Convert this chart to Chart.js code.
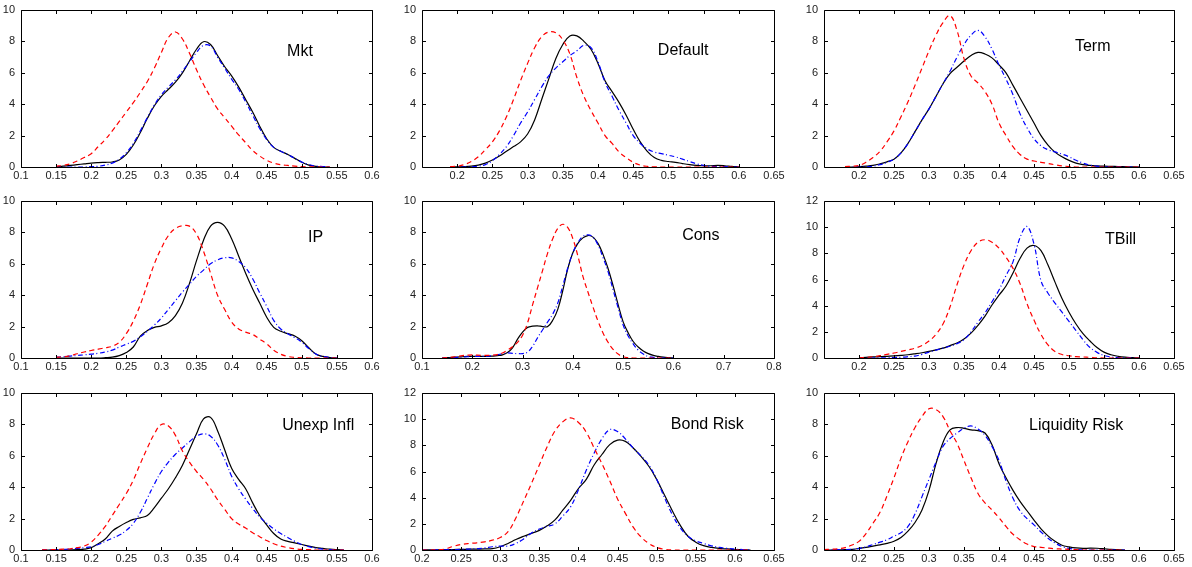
<!DOCTYPE html>
<html>
<head>
<meta charset="utf-8">
<title>Factor densities</title>
<script src="https://cdn.jsdelivr.net/npm/chart.js@4.4.0/dist/chart.umd.min.js"></script>
<style>
  html, body { margin: 0; padding: 0; background: #fff; }
  #grid { position: relative; width: 1192px; height: 567px; overflow: hidden; }
  #grid canvas { position: absolute; }
</style>
</head>
<body>
<div id="grid"></div>
<script>
// density estimates per factor: x grid plus three curves (black solid, blue dash-dot, red dashed)
const mktX = [0.15,0.16,0.17,0.18,0.19,0.20,0.21,0.22,0.23,0.24,0.25,0.26,0.27,0.28,0.29,0.30,0.31,0.32,0.33,0.34,0.35,0.36,0.37,0.38,0.39,0.40,0.41,0.42,0.43,0.44,0.45,0.46,0.47,0.48,0.49,0.50,0.51,0.52,0.53,0.54];
const mktBlack = [0,0.05,0.1,0.15,0.2,0.25,0.28,0.3,0.32,0.45,0.8,1.4,2.2,3.1,3.9,4.5,4.95,5.4,6.0,6.75,7.5,7.98,7.8,7.1,6.4,5.8,5.1,4.3,3.5,2.6,1.8,1.25,1.0,0.8,0.55,0.3,0.12,0.04,0,0];
const mktBlue = [0,0,0,0,0,0.02,0.05,0.12,0.25,0.5,0.9,1.5,2.3,3.15,3.95,4.6,5.1,5.55,6.1,6.7,7.3,7.75,7.7,7.0,6.3,5.6,4.95,4.15,3.3,2.45,1.75,1.25,1.0,0.8,0.55,0.32,0.15,0.06,0.03,0.01];
const mktRed = [0.05,0.1,0.2,0.38,0.6,0.85,1.3,1.75,2.3,2.9,3.5,4.1,4.75,5.45,6.3,7.3,8.25,8.6,8.15,7.25,6.2,5.25,4.45,3.7,3.15,2.6,2.05,1.55,1.05,0.7,0.43,0.25,0.15,0.1,0.06,0.02,0.01,0,0,0];

const defX = [0.19,0.20,0.21,0.22,0.23,0.24,0.25,0.26,0.27,0.28,0.29,0.30,0.31,0.32,0.33,0.34,0.35,0.36,0.37,0.38,0.39,0.40,0.41,0.42,0.43,0.44,0.45,0.46,0.47,0.48,0.49,0.50,0.51,0.52,0.53,0.54,0.55,0.56,0.57,0.58,0.59,0.60];
const defBlack = [0,0.01,0.02,0.05,0.12,0.25,0.45,0.7,1.0,1.3,1.6,2.1,3.0,4.3,5.6,6.9,7.8,8.35,8.35,8.0,7.5,6.6,5.5,4.8,4.1,3.3,2.4,1.6,1.0,0.6,0.42,0.35,0.3,0.22,0.15,0.1,0.08,0.08,0.1,0.08,0.04,0.01];
const defBlue = [0,0,0,0.02,0.06,0.15,0.4,0.8,1.3,2.0,2.8,3.5,4.3,5.1,5.8,6.3,6.7,7.1,7.4,7.75,7.6,6.7,5.4,4.5,3.6,2.8,2.0,1.5,1.15,0.95,0.85,0.75,0.65,0.5,0.35,0.2,0.1,0.05,0.03,0.02,0,0];
const defRed = [0.02,0.05,0.15,0.35,0.65,1.1,1.6,2.3,3.2,4.3,5.5,6.6,7.6,8.3,8.6,8.55,8.1,7.2,5.7,4.5,3.6,2.8,2.0,1.5,0.95,0.6,0.3,0.12,0.04,0.01,0,0,0,0,0,0,0,0,0,0,0,0];

const termX = [0.18,0.19,0.20,0.21,0.22,0.23,0.24,0.25,0.26,0.27,0.28,0.29,0.30,0.31,0.32,0.33,0.34,0.35,0.36,0.37,0.38,0.39,0.40,0.41,0.42,0.43,0.44,0.45,0.46,0.47,0.48,0.49,0.50,0.51,0.52,0.53,0.54,0.55,0.56,0.57,0.58,0.59,0.60];
const termBlack = [0,0,0.02,0.05,0.1,0.2,0.33,0.5,0.9,1.5,2.25,3.0,3.7,4.5,5.3,5.95,6.35,6.75,7.1,7.3,7.2,6.95,6.5,6.0,5.2,4.4,3.6,2.8,2.0,1.4,0.95,0.65,0.42,0.25,0.15,0.1,0.07,0.05,0.04,0.03,0.02,0.01,0];
const termBlue = [0,0,0,0.02,0.05,0.15,0.3,0.5,0.9,1.5,2.25,3.0,3.7,4.5,5.3,6.1,7.0,7.8,8.4,8.7,8.3,7.5,6.5,5.6,4.6,3.4,2.5,1.8,1.35,1.1,0.96,0.82,0.65,0.43,0.25,0.12,0.05,0.02,0,0,0,0,0];
const termRed = [0.02,0.05,0.1,0.3,0.6,1.0,1.6,2.3,3.2,4.15,5.2,6.3,7.4,8.4,9.2,9.65,8.7,6.9,5.8,5.35,4.8,4.0,2.8,2.0,1.3,0.8,0.5,0.38,0.3,0.22,0.14,0.07,0.03,0,0,0,0,0,0,0,0,0,0];

const ipX = [0.15,0.16,0.17,0.18,0.19,0.20,0.21,0.22,0.23,0.24,0.25,0.26,0.27,0.28,0.29,0.30,0.31,0.32,0.33,0.34,0.35,0.36,0.37,0.38,0.39,0.40,0.41,0.42,0.43,0.44,0.45,0.46,0.47,0.48,0.49,0.50,0.51,0.52,0.53,0.54,0.55];
const ipBlack = [0,0,0,0,0,0,0,0.02,0.05,0.15,0.35,0.7,1.4,1.75,1.95,2.05,2.25,2.7,3.5,4.75,6.2,7.5,8.4,8.64,8.4,7.6,6.5,5.4,4.4,3.5,2.6,1.95,1.7,1.55,1.4,1.1,0.65,0.25,0.1,0.03,0];
const ipBlue = [0.05,0.08,0.12,0.16,0.2,0.25,0.3,0.38,0.5,0.7,0.88,1.06,1.35,1.7,2.1,2.55,3.1,3.65,4.2,4.7,5.2,5.6,6.0,6.25,6.38,6.38,6.15,5.75,5.05,4.15,3.3,2.4,1.85,1.55,1.3,1.0,0.6,0.25,0.1,0.03,0];
const ipRed = [0.04,0.08,0.15,0.27,0.38,0.48,0.56,0.65,0.75,1.0,1.55,2.35,3.4,4.7,6.0,7.0,7.8,8.25,8.42,8.4,7.9,6.8,5.4,4.0,3.1,2.3,1.85,1.65,1.5,1.2,0.9,0.5,0.24,0.1,0.04,0.01,0,0,0,0,0];

const consX = [0.14,0.15,0.16,0.17,0.18,0.19,0.20,0.21,0.22,0.23,0.24,0.25,0.26,0.27,0.28,0.29,0.30,0.31,0.32,0.33,0.34,0.35,0.36,0.37,0.38,0.39,0.40,0.41,0.42,0.43,0.44,0.45,0.46,0.47,0.48,0.49,0.50,0.51,0.52,0.53,0.54,0.55,0.56,0.57,0.58,0.59,0.60];
const consBlack = [0,0.02,0.04,0.06,0.08,0.1,0.1,0.1,0.1,0.1,0.12,0.15,0.2,0.35,0.65,1.2,1.65,1.95,2.03,2.05,2.0,2.0,2.4,3.1,4.3,5.7,6.7,7.3,7.65,7.8,7.7,7.3,6.6,5.7,4.6,3.4,2.3,1.6,1.05,0.7,0.45,0.28,0.17,0.1,0.05,0.02,0];
const consBlue = [0,0,0.02,0.04,0.06,0.08,0.1,0.1,0.1,0.12,0.15,0.2,0.28,0.32,0.3,0.28,0.28,0.38,0.75,1.3,1.8,2.3,2.8,3.5,4.6,5.75,6.7,7.35,7.75,7.84,7.7,7.2,6.4,5.5,4.35,3.2,2.1,1.4,0.9,0.5,0.25,0.1,0.04,0.01,0,0,0];
const consRed = [0,0.02,0.06,0.1,0.15,0.18,0.2,0.18,0.17,0.17,0.18,0.22,0.32,0.5,0.72,1.0,1.45,2.25,3.4,4.5,5.6,6.7,7.6,8.25,8.52,8.3,7.6,6.5,5.2,4.2,3.25,2.35,1.6,1.0,0.55,0.25,0.08,0.02,0,0,0,0,0,0,0,0,0];

const tbillX = [0.20,0.21,0.22,0.23,0.24,0.25,0.26,0.27,0.28,0.29,0.30,0.31,0.32,0.33,0.34,0.35,0.36,0.37,0.38,0.39,0.40,0.41,0.42,0.43,0.44,0.45,0.46,0.47,0.48,0.49,0.50,0.51,0.52,0.53,0.54,0.55,0.56,0.57,0.58,0.59,0.60];
const tbillBlack = [0.02,0.05,0.08,0.1,0.13,0.16,0.2,0.25,0.32,0.4,0.5,0.62,0.75,0.95,1.15,1.45,1.9,2.5,3.2,4.05,4.8,5.5,6.5,7.6,8.4,8.6,8.2,7.1,5.8,4.55,3.5,2.6,1.86,1.3,0.8,0.45,0.25,0.13,0.06,0.03,0.01];
const tbillBlue = [0,0,0,0.01,0.02,0.04,0.06,0.1,0.15,0.28,0.45,0.6,0.75,0.9,1.1,1.4,2.0,2.75,3.45,4.3,5.2,6.3,7.35,9.2,10.05,8.7,5.9,4.95,4.2,3.5,2.8,2.1,1.4,0.8,0.43,0.2,0.08,0.03,0.01,0,0];
const tbillRed = [0.02,0.05,0.1,0.18,0.28,0.38,0.5,0.62,0.75,0.95,1.3,1.8,2.6,3.9,5.6,7.1,8.2,8.85,9.04,8.85,8.4,7.7,6.85,5.7,4.15,2.9,1.8,1.0,0.5,0.27,0.17,0.1,0.08,0.05,0.02,0,0,0,0,0,0];

const inflX = [0.13,0.14,0.15,0.16,0.17,0.18,0.19,0.20,0.21,0.22,0.23,0.24,0.25,0.26,0.27,0.28,0.29,0.30,0.31,0.32,0.33,0.34,0.35,0.36,0.37,0.38,0.39,0.40,0.41,0.42,0.43,0.44,0.45,0.46,0.47,0.48,0.49,0.50,0.51,0.52,0.53,0.54,0.55,0.56];
const inflBlack = [0,0,0,0,0.01,0.02,0.05,0.15,0.4,0.7,1.2,1.5,1.75,1.95,2.05,2.2,2.7,3.3,3.9,4.6,5.4,6.4,7.4,8.35,8.45,7.6,6.4,5.2,4.5,3.9,3.0,2.2,1.6,1.05,0.7,0.55,0.45,0.35,0.25,0.15,0.1,0.05,0.02,0];
const inflBlue = [0,0.01,0.02,0.04,0.06,0.1,0.15,0.2,0.35,0.55,0.75,0.95,1.25,1.7,2.4,3.3,4.2,5.0,5.6,6.1,6.5,6.9,7.25,7.4,7.25,6.7,5.8,4.7,3.9,3.25,2.65,2.1,1.7,1.35,1.05,0.8,0.55,0.35,0.22,0.12,0.05,0.02,0,0];
const inflRed = [0.01,0.02,0.03,0.05,0.08,0.15,0.25,0.5,0.95,1.5,2.2,2.9,3.6,4.45,5.5,6.5,7.4,8.0,7.9,7.3,6.3,5.6,5.0,4.5,3.9,3.2,2.6,2.0,1.65,1.4,1.1,0.85,0.6,0.4,0.25,0.15,0.08,0.04,0.02,0,0,0,0,0];

const bondX = [0.20,0.21,0.22,0.23,0.24,0.25,0.26,0.27,0.28,0.29,0.30,0.31,0.32,0.33,0.34,0.35,0.36,0.37,0.38,0.39,0.40,0.41,0.42,0.43,0.44,0.45,0.46,0.47,0.48,0.49,0.50,0.51,0.52,0.53,0.54,0.55,0.56,0.57,0.58,0.59,0.60,0.61,0.62];
const bondBlack = [0,0.01,0.02,0.03,0.04,0.05,0.06,0.07,0.08,0.1,0.25,0.5,0.8,1.05,1.27,1.5,1.85,2.3,3.05,3.8,4.7,5.4,6.5,7.3,8.05,8.4,8.3,7.8,7.15,6.4,5.4,4.2,3.0,1.9,1.05,0.6,0.33,0.2,0.12,0.08,0.04,0.02,0];
const bondBlue = [0,0,0.01,0.02,0.03,0.05,0.07,0.1,0.15,0.25,0.3,0.3,0.5,0.85,1.3,1.6,1.8,2.0,2.6,3.3,4.6,6.1,7.4,8.5,9.2,9.05,8.5,7.8,7.2,6.5,5.4,4.0,2.7,1.7,1.05,0.7,0.5,0.32,0.2,0.12,0.07,0.03,0];
const bondRed = [0,0,0.02,0.08,0.28,0.42,0.5,0.55,0.62,0.75,0.95,1.4,2.45,3.75,5.1,6.5,7.9,9.1,9.8,10.1,9.75,9.0,7.8,6.6,5.3,3.9,2.8,1.75,1.0,0.5,0.2,0.05,0,0,0,0,0,0,0,0,0,0,0];

const liqX = [0.15,0.16,0.17,0.18,0.19,0.20,0.21,0.22,0.23,0.24,0.25,0.26,0.27,0.28,0.29,0.30,0.31,0.32,0.33,0.34,0.35,0.36,0.37,0.38,0.39,0.40,0.41,0.42,0.43,0.44,0.45,0.46,0.47,0.48,0.49,0.50,0.51,0.52,0.53,0.54,0.55,0.56,0.57,0.58];
const liqBlack = [0,0,0.01,0.02,0.04,0.1,0.17,0.25,0.33,0.42,0.56,0.8,1.2,1.75,2.55,3.8,5.5,6.85,7.65,7.8,7.75,7.65,7.6,7.45,6.7,5.5,4.6,3.8,3.1,2.5,1.9,1.35,0.9,0.55,0.3,0.2,0.13,0.1,0.12,0.11,0.08,0.04,0.02,0];
const liqBlue = [0,0.01,0.02,0.03,0.05,0.1,0.2,0.35,0.5,0.65,0.88,1.1,1.5,2.3,3.4,4.5,5.6,6.6,7.1,7.45,7.75,7.9,7.7,7.3,6.6,5.7,4.4,3.3,2.5,2.0,1.6,1.15,0.75,0.45,0.22,0.1,0.04,0.01,0,0,0,0,0,0];
const liqRed = [0.03,0.05,0.08,0.15,0.32,0.55,1.05,1.7,2.4,3.45,4.6,5.85,6.9,7.8,8.5,9.0,8.95,8.5,7.6,6.8,5.7,4.6,3.6,3.0,2.55,2.05,1.5,1.0,0.65,0.38,0.22,0.17,0.12,0.08,0.06,0.04,0.02,0,0,0,0,0,0,0];

const panels = [
  { name: 'Mkt', x: mktX, black: mktBlack, blue: mktBlue, red: mktRed, xMin: 0.1, xMax: 0.6, xStep: 0.05, yMax: 10 },
  { name: 'Default', x: defX, black: defBlack, blue: defBlue, red: defRed, xMin: 0.15, xMax: 0.65, xStep: 0.05, yMax: 10, firstLabel: 0.2 },
  { name: 'Term', x: termX, black: termBlack, blue: termBlue, red: termRed, xMin: 0.15, xMax: 0.65, xStep: 0.05, yMax: 10, firstLabel: 0.2 },
  { name: 'IP', x: ipX, black: ipBlack, blue: ipBlue, red: ipRed, xMin: 0.1, xMax: 0.6, xStep: 0.05, yMax: 10 },
  { name: 'Cons', x: consX, black: consBlack, blue: consBlue, red: consRed, xMin: 0.1, xMax: 0.8, xStep: 0.1, yMax: 10 },
  { name: 'TBill', x: tbillX, black: tbillBlack, blue: tbillBlue, red: tbillRed, xMin: 0.15, xMax: 0.65, xStep: 0.05, yMax: 12, firstLabel: 0.2 },
  { name: 'Unexp Infl', x: inflX, black: inflBlack, blue: inflBlue, red: inflRed, xMin: 0.1, xMax: 0.6, xStep: 0.05, yMax: 10 },
  { name: 'Bond Risk', x: bondX, black: bondBlack, blue: bondBlue, red: bondRed, xMin: 0.2, xMax: 0.65, xStep: 0.05, yMax: 12 },
  { name: 'Liquidity Risk', x: liqX, black: liqBlack, blue: liqBlue, red: liqRed, xMin: 0.15, xMax: 0.65, xStep: 0.05, yMax: 10, firstLabel: 0.2 }
];

// plot boxes on the page: column [left, width], row tops, common height
const cols = [[21, 351], [422, 352], [824, 350]];
const rows = [10, 201, 393];
const plotH = 157;
// where each factor name sits, as a fraction of its plot box (left, baseline)
const nameAt = [[0.758, 0.293], [0.670, 0.287], [0.717, 0.261],
                [0.818, 0.261], [0.739, 0.248], [0.803, 0.274],
                [0.744, 0.236], [0.707, 0.229], [0.586, 0.236]];

const PAD_L = 21, PAD_T = 9, PAD_R = 14, PAD_B = 20;
const TICK = 3.5;

Chart.defaults.font.family = '"Liberation Sans", Arial, Helvetica, sans-serif';
Chart.defaults.font.size = 11;
Chart.defaults.color = '#222';

// matlab-style frame: full box with inward ticks on all four sides, plus the factor name
const framePlugin = {
  id: 'frame',
  afterDraw(chart, args, opts) {
    const { ctx, chartArea: a } = chart;
    const xs = chart.scales.x, ys = chart.scales.y;
    const L = Math.round(a.left) + 0.5, R = Math.round(a.right) + 0.5;
    const T = Math.round(a.top) + 0.5, B = Math.round(a.bottom) + 0.5;
    ctx.save();
    ctx.strokeStyle = '#000';
    ctx.lineWidth = 1;
    ctx.beginPath();
    ctx.rect(L, T, R - L, B - T);
    xs.ticks.forEach(t => {
      const px = Math.round(xs.getPixelForValue(t.value)) + 0.5;
      ctx.moveTo(px, B); ctx.lineTo(px, B - TICK);
      ctx.moveTo(px, T); ctx.lineTo(px, T + TICK);
    });
    ys.ticks.forEach(t => {
      const py = Math.round(ys.getPixelForValue(t.value)) + 0.5;
      ctx.moveTo(L, py); ctx.lineTo(L + TICK, py);
      ctx.moveTo(R, py); ctx.lineTo(R - TICK, py);
    });
    ctx.stroke();

    ctx.fillStyle = '#000';
    ctx.font = '16px "Liberation Sans", Arial, Helvetica, sans-serif';
    ctx.textAlign = 'left';
    ctx.textBaseline = 'alphabetic';
    ctx.fillText(opts.name, a.left + opts.fx * (a.right - a.left), a.top + opts.fy * (a.bottom - a.top));
    ctx.restore();
  }
};

function series(xs, ys) {
  return xs.map((x, i) => ({ x: x, y: ys[i] }));
}

function tickText(v) {
  return String(Math.round(v * 100) / 100);
}

const grid = document.getElementById('grid');

panels.forEach((p, i) => {
  const col = cols[i % 3], top = rows[Math.floor(i / 3)];
  const canvas = document.createElement('canvas');
  const w = PAD_L + col[1] + PAD_R, h = PAD_T + plotH + PAD_B;
  canvas.width = w;
  canvas.height = h;
  canvas.style.width = w + 'px';
  canvas.style.height = h + 'px';
  canvas.style.left = (col[0] - PAD_L) + 'px';
  canvas.style.top = (top - PAD_T) + 'px';
  grid.appendChild(canvas);

  const line = { borderWidth: 1.2, pointRadius: 0, fill: false, tension: 0.4 };

  new Chart(canvas.getContext('2d'), {
    type: 'line',
    data: {
      datasets: [
        Object.assign({ data: series(p.x, p.red), borderColor: '#ff0000', borderDash: [5, 3.5] }, line),
        Object.assign({ data: series(p.x, p.blue), borderColor: '#0000ff', borderDash: [5, 2.5, 1, 2.5] }, line),
        Object.assign({ data: series(p.x, p.black), borderColor: '#000000' }, line)
      ]
    },
    options: {
      responsive: false,
      animation: false,
      devicePixelRatio: 1,
      events: [],
      layout: { padding: { left: 0, top: PAD_T, right: PAD_R, bottom: 0 } },
      plugins: {
        legend: { display: false },
        tooltip: { enabled: false },
        frame: { name: p.name, fx: nameAt[i][0], fy: nameAt[i][1] }
      },
      scales: {
        x: {
          type: 'linear',
          min: p.xMin,
          max: p.xMax,
          grid: { display: false, drawTicks: false },
          border: { display: false },
          ticks: {
            stepSize: p.xStep,
            autoSkip: false,
            maxRotation: 0,
            padding: 2,
            callback: tickText
          },
          afterBuildTicks(scale) {
            if (p.firstLabel) {
              scale.ticks = scale.ticks.filter(t => t.value > p.firstLabel - 1e-6);
            }
          },
          afterFit(scale) {
            scale.height = PAD_B;
            scale.paddingLeft = 0;
            scale.paddingRight = 0;
          }
        },
        y: {
          min: 0,
          max: p.yMax,
          grid: { display: false, drawTicks: false },
          border: { display: false },
          ticks: { stepSize: 2, padding: 6, autoSkip: false },
          afterFit(scale) {
            scale.width = PAD_L;
            scale.paddingTop = 0;
            scale.paddingBottom = 0;
          }
        }
      }
    },
    plugins: [framePlugin]
  });
});
</script>
</body>
</html>
